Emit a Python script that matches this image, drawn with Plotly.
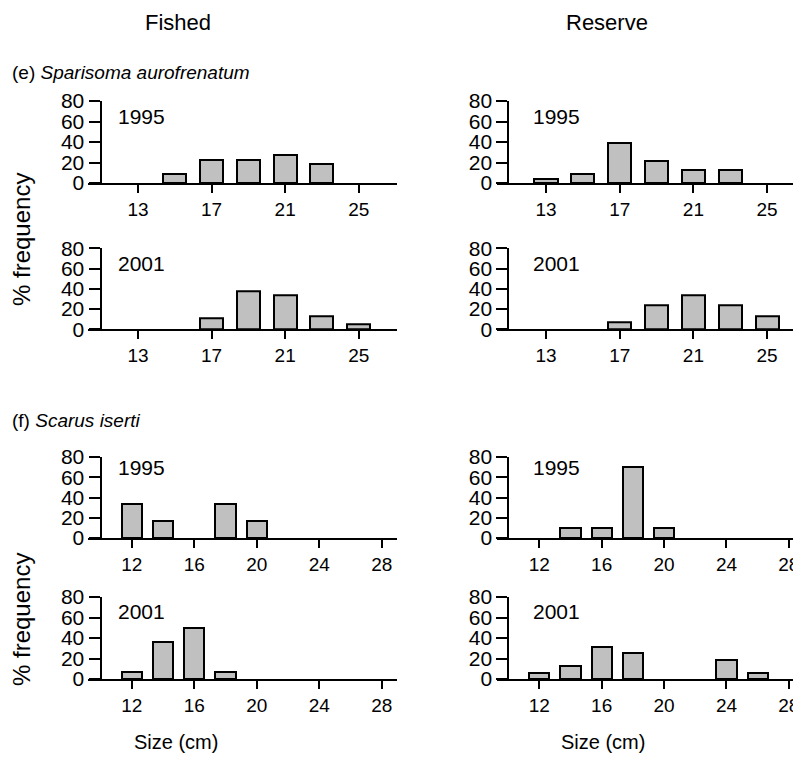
import plotly.graph_objects as go

W, H = 801, 765
OFF = 8  # page body margin in the browser

# ---- data ----
e_sizes = [13, 15, 17, 19, 21, 23, 25]
e_ticks = [13, 17, 21, 25]
e_fished_1995 = [0, 9.1, 22.7, 22.7, 27.3, 18.2, 0]
e_fished_2001 = [0, 0, 11.0, 37.5, 34.0, 13.0, 4.5]
e_reserve_1995 = [4.3, 8.7, 39.1, 21.7, 13.0, 13.0, 0]
e_reserve_2001 = [0, 0, 6.7, 23.3, 33.3, 23.3, 13.3]

f_sizes = [12, 14, 16, 18, 20, 22, 24, 26, 28]
f_ticks = [12, 16, 20, 24, 28]
f_fished_1995 = [33.3, 16.7, 0, 33.3, 16.7, 0, 0, 0, 0]
f_fished_2001 = [7.1, 35.7, 50.0, 7.1, 0, 0, 0, 0, 0]
f_reserve_1995 = [0, 10, 10, 70, 10, 0, 0, 0, 0]
f_reserve_2001 = [6.25, 12.5, 31.25, 25.0, 0, 0, 18.75, 6.25, 0]

y_ticks = [0, 20, 40, 60, 80]

FONT = "Liberation Sans, Arial, sans-serif"

panels = [
    (e_sizes, e_fished_1995, e_ticks, 1.25, "1995", 0, 0),
    (e_sizes, e_reserve_1995, e_ticks, 1.25, "1995", 1, 0),
    (e_sizes, e_fished_2001, e_ticks, 1.25, "2001", 0, 1),
    (e_sizes, e_reserve_2001, e_ticks, 1.25, "2001", 1, 1),
    (f_sizes, f_fished_1995, f_ticks, 1.3, "1995", 0, 2),
    (f_sizes, f_reserve_1995, f_ticks, 1.3, "1995", 1, 2),
    (f_sizes, f_fished_2001, f_ticks, 1.3, "2001", 0, 3),
    (f_sizes, f_reserve_2001, f_ticks, 1.3, "2001", 1, 3),
]

def px(p):
    return (p - OFF) / W

def py(p):
    return 1 - (p - OFF) / H

col_x = [(88, 397), (497, 801)]
col_yaxis = [100.5, 508.3]
row_y = [(101, 183), (248.3, 329.3), (457, 538), (597, 679)]
xr = {
    ("e", 0): [10.28, 27.08], ("e", 1): [10.34, 26.84],
    ("f", 0): [9.2, 28.98], ("f", 1): [9.29, 28.78],
}
year_pos = {0: 116.7, 1: 264, 2: 467, 3: 611.7}
year_x = [116, 531]

fig = go.Figure()
layout = dict(
    width=W, height=H, margin=dict(l=0, r=0, t=0, b=0, autoexpand=False),
    template="none",
    plot_bgcolor="white", paper_bgcolor="white", showlegend=False,
    font=dict(family=FONT, color="black"), bargap=0,
)
annotations = []

for i, (sizes, vals, ticks, bw, year, col, row) in enumerate(panels):
    n = i + 1
    xs = "x" if n == 1 else f"x{n}"
    ys = "y" if n == 1 else f"y{n}"
    xk = "xaxis" if n == 1 else f"xaxis{n}"
    yk = "yaxis" if n == 1 else f"yaxis{n}"
    sp = "e" if row < 2 else "f"
    xvals = [s for s, v in zip(sizes, vals) if v > 0]
    yvals = [v for v in vals if v > 0]
    fig.add_trace(go.Bar(
        x=xvals, y=yvals, width=bw, xaxis=xs, yaxis=ys,
        marker=dict(color="#c0c0c0", line=dict(color="black", width=2)),
        hoverinfo="skip",
    ))
    x0, x1 = col_x[col]
    ytop, ybot = row_y[row]
    layout[xk] = dict(
        domain=[px(x0), min(px(x1), 1.0)], range=xr[(sp, col)], anchor=ys,
        automargin=False,
        showline=True, linewidth=2, linecolor="black",
        ticks="outside", ticklen=8, tickwidth=2, tickcolor="black",
        tickvals=ticks, ticktext=[str(t) for t in ticks],
        tickfont=dict(size=19, family=FONT), showgrid=False, zeroline=False,
    )
    layout[yk] = dict(
        domain=[py(ybot), py(ytop)], range=[0, 80],
        anchor="free", position=px(col_yaxis[col]), automargin=False,
        showline=True, linewidth=2, linecolor="black",
        ticks="outside", ticklen=11, tickwidth=2, tickcolor="black",
        tickvals=y_ticks, tickfont=dict(size=21, family=FONT),
        showgrid=False, zeroline=False, ticklabelstandoff=0,
    )
    annotations.append(dict(
        text=year, x=px(year_x[col]), y=py(year_pos[row]),
        xref="paper", yref="paper", xanchor="left", yanchor="middle",
        showarrow=False, font=dict(size=21, family=FONT),
    ))

def ann(text, x, y, size, angle=0, xanchor="center"):
    annotations.append(dict(
        text=text, x=px(x), y=py(y), xref="paper", yref="paper",
        xanchor=xanchor, yanchor="middle", showarrow=False, textangle=angle,
        font=dict(size=size, family=FONT),
    ))

ann("Fished", 178, 22, 22)
ann("Reserve", 607, 22, 22)
ann("(e) <i>Sparisoma aurofrenatum</i>", 10, 72, 19, xanchor="left")
ann("(f) <i>Scarus iserti</i>", 10, 420, 19, xanchor="left")
ann("% frequency", 21, 240, 24, angle=-90)
ann("% frequency", 21, 620, 24, angle=-90)
ann("Size (cm)", 176, 742, 20)
ann("Size (cm)", 603, 742, 20)

layout["annotations"] = annotations
fig.update_layout(**layout)
fig.write_html("out.html")
